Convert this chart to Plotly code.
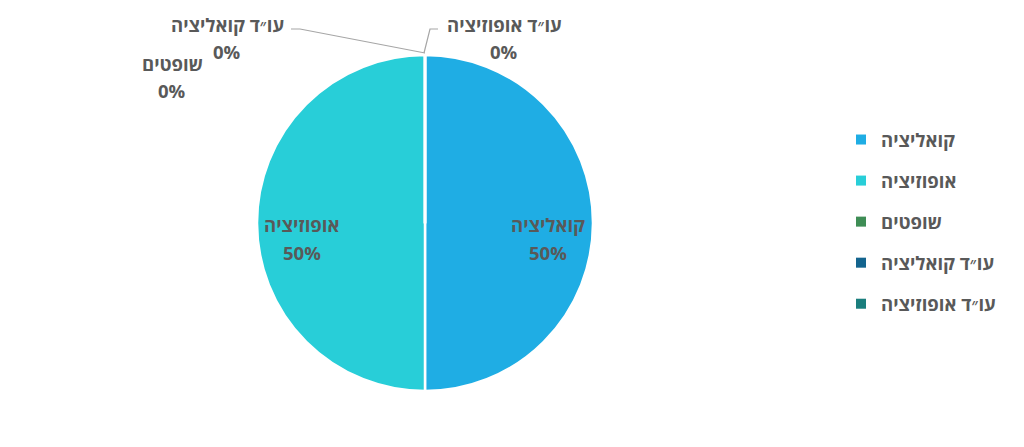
import math
import plotly.graph_objects as go

# ---- data ----
labels = ["קואליציה", "אופוזיציה", "שופטים", "עו״ד קואליציה", "עו״ד אופוזיציה"]
values = [50, 50, 0, 0, 0]
colors = ["#1FADE4", "#28CED8", "#3E8D55", "#13648E", "#1A7E7D"]

W, H = 1024, 447
FONT = "Open Sans"
TXT = "#595959"
FS = 18.5

def px(x):
    return x / W

def py(y):
    return 1 - y / H

total = sum(values)
pcts = [f"{round(v / total * 100)}%" for v in values]

cx, cy, r = 425, 223, 168

fig = go.Figure()
fig.add_trace(go.Pie(
    labels=labels,
    values=values,
    sort=False,
    direction="clockwise",
    rotation=0,
    marker=dict(colors=colors, line=dict(color="white", width=2.5)),
    textinfo="none",
    domain=dict(x=[px(cx - r), px(cx + r)], y=[py(cy + r), py(cy - r)]),
    showlegend=False,
    hoverinfo="label+percent",
))

# legend entries
for i, (lab, col) in enumerate(zip(labels, colors)):
    fig.add_trace(go.Scatter(
        x=[None], y=[None], mode="markers", name=lab,
        marker=dict(symbol="square", size=10, color=col),
        legendgroup=f"g{i}", showlegend=True,
    ))

tfont = dict(family=FONT, size=FS, color=TXT, weight="bold")
annotations = []

def add_label(i, x, y_name, y_pct):
    annotations.append(dict(x=px(x), y=py(y_name), xref="paper", yref="paper",
                            xanchor="center", yanchor="middle",
                            text=labels[i], showarrow=False, font=tfont))
    annotations.append(dict(x=px(x), y=py(y_pct), xref="paper", yref="paper",
                            xanchor="center", yanchor="middle",
                            text=pcts[i], showarrow=False, font=tfont))

# inside labels for non-zero slices, placed at the slice's mid-angle
cum = 0
k = 0.735
for i, v in enumerate(values):
    if v > 0:
        theta = (cum + v / 2) / total * 2 * math.pi
        lx = cx + k * r * math.sin(theta)
        ly = cy - k * r * math.cos(theta)
        add_label(i, lx, ly + 1.5, ly + 29.5)
    cum += v

# outside labels for zero-value slices
zero_pos = {2: (172, 63, 91), 3: (227, 24, 52), 4: (504, 24, 52)}
for i, (x, y1, y2) in zero_pos.items():
    add_label(i, x, y1, y2)

tx, ty = cx, cy - r  # where zero slices sit (top of pie)
shapes = [
    dict(type="path", xref="paper", yref="paper",
         path=f"M {px(tx)},{py(ty - 2)} L {px(300)},{py(29)} L {px(291)},{py(29)}",
         line=dict(color="#A6A6A6", width=1.2)),
    dict(type="path", xref="paper", yref="paper",
         path=f"M {px(tx - 1)},{py(ty - 2)} L {px(430)},{py(29)} L {px(438)},{py(29)}",
         line=dict(color="#A6A6A6", width=1.2)),
]

fig.update_layout(
    width=W, height=H,
    margin=dict(l=0, r=0, t=0, b=0),
    paper_bgcolor="white", plot_bgcolor="white",
    xaxis=dict(visible=False), yaxis=dict(visible=False),
    annotations=annotations, shapes=shapes,
    legend=dict(x=px(841), y=py(121), xanchor="left", yanchor="top",
                font=dict(family=FONT, size=FS, color=TXT, weight="bold"),
                tracegroupgap=14, itemclick=False, bgcolor="rgba(0,0,0,0)"),
)

fig.write_html("out.html", config={"displayModeBar": False},
               post_script="document.body.style.margin='0';")
